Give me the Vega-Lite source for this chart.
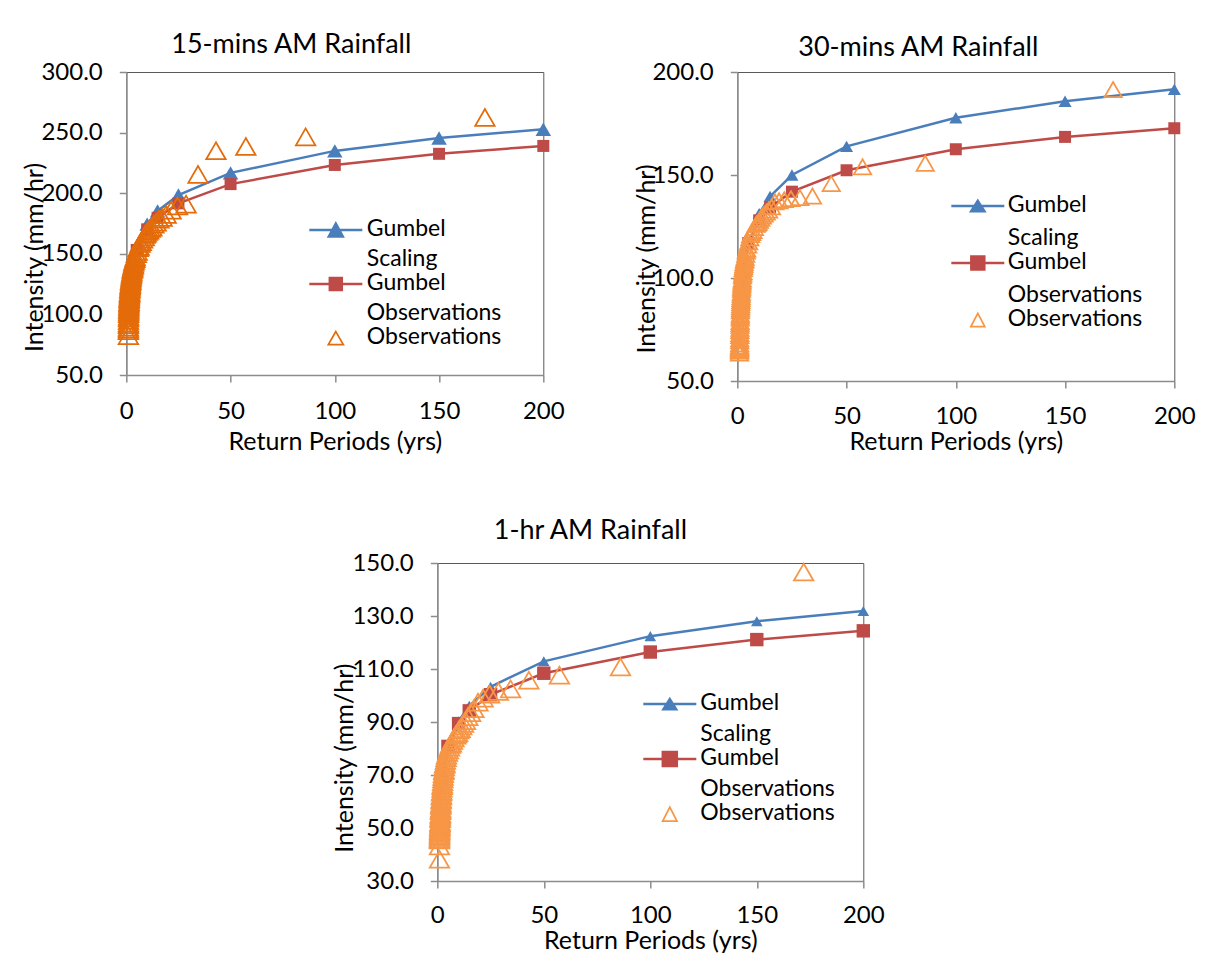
{
"$schema": "https://vega.github.io/schema/vega-lite/v6.json",
"background": "white",
"padding": {"left": 21, "top": 30, "right": 0, "bottom": 0},
"datasets": {
"d15": [
{"s":"Gumbel Scaling","T":2,"I":126.1},{"s":"Gumbel Scaling","T":5,"I":155.2},{"s":"Gumbel Scaling","T":10,"I":174.5},{"s":"Gumbel Scaling","T":15,"I":185.4},{"s":"Gumbel Scaling","T":25,"I":198.5},{"s":"Gumbel Scaling","T":50,"I":216.8},{"s":"Gumbel Scaling","T":100,"I":234.9},{"s":"Gumbel Scaling","T":150,"I":245.6},{"s":"Gumbel Scaling","T":200,"I":252.8},
{"s":"Gumbel Observations","T":2,"I":127.6},{"s":"Gumbel Observations","T":5,"I":153.2},{"s":"Gumbel Observations","T":10,"I":170.2},{"s":"Gumbel Observations","T":15,"I":179.7},{"s":"Gumbel Observations","T":25,"I":191.6},{"s":"Gumbel Observations","T":50,"I":207.5},{"s":"Gumbel Observations","T":100,"I":223.3},{"s":"Gumbel Observations","T":150,"I":232.5},{"s":"Gumbel Observations","T":200,"I":239.0},
{"s":"Observations","T":172,"I":262.5},{"s":"Observations","T":86,"I":246.5},{"s":"Observations","T":57.33,"I":238.5},{"s":"Observations","T":43,"I":235},{"s":"Observations","T":34.4,"I":215.5},{"s":"Observations","T":28.67,"I":191},{"s":"Observations","T":24.57,"I":189.5},{"s":"Observations","T":21.5,"I":186},{"s":"Observations","T":19.11,"I":182.5},{"s":"Observations","T":17.2,"I":180},{"s":"Observations","T":15.64,"I":178.5},{"s":"Observations","T":14.33,"I":176},{"s":"Observations","T":13.23,"I":174.5},{"s":"Observations","T":12.29,"I":172},{"s":"Observations","T":11.47,"I":171},{"s":"Observations","T":10.75,"I":169.5},{"s":"Observations","T":10.12,"I":168.5},{"s":"Observations","T":9.56,"I":167},{"s":"Observations","T":9.05,"I":166},{"s":"Observations","T":8.6,"I":164},{"s":"Observations","T":7.82,"I":162},{"s":"Observations","T":7.17,"I":160},{"s":"Observations","T":6.62,"I":158.5},{"s":"Observations","T":6.14,"I":156},{"s":"Observations","T":5.73,"I":155},{"s":"Observations","T":5.21,"I":152},{"s":"Observations","T":4.78,"I":150},{"s":"Observations","T":4.3,"I":147.5},{"s":"Observations","T":4.1,"I":146},{"s":"Observations","T":3.82,"I":144.5},{"s":"Observations","T":3.58,"I":143},{"s":"Observations","T":3.44,"I":141.5},{"s":"Observations","T":3.31,"I":140.5},{"s":"Observations","T":3.13,"I":139},{"s":"Observations","T":3.02,"I":138},{"s":"Observations","T":2.87,"I":137},{"s":"Observations","T":2.73,"I":135.5},{"s":"Observations","T":2.61,"I":134},{"s":"Observations","T":2.49,"I":133},{"s":"Observations","T":2.39,"I":131.5},{"s":"Observations","T":2.29,"I":130.5},{"s":"Observations","T":2.21,"I":129},{"s":"Observations","T":2.12,"I":128},{"s":"Observations","T":2.05,"I":127},{"s":"Observations","T":1.98,"I":125.5},{"s":"Observations","T":1.91,"I":124.5},{"s":"Observations","T":1.85,"I":123.5},{"s":"Observations","T":1.79,"I":122.5},{"s":"Observations","T":1.74,"I":121.5},{"s":"Observations","T":1.69,"I":120.5},{"s":"Observations","T":1.64,"I":119},{"s":"Observations","T":1.59,"I":118},{"s":"Observations","T":1.55,"I":117},{"s":"Observations","T":1.51,"I":116},{"s":"Observations","T":1.47,"I":115},{"s":"Observations","T":1.43,"I":114},{"s":"Observations","T":1.4,"I":113},{"s":"Observations","T":1.37,"I":112},{"s":"Observations","T":1.33,"I":110.5},{"s":"Observations","T":1.3,"I":109.5},{"s":"Observations","T":1.27,"I":108.5},{"s":"Observations","T":1.25,"I":107},{"s":"Observations","T":1.22,"I":106},{"s":"Observations","T":1.19,"I":104.5},{"s":"Observations","T":1.17,"I":103.5},{"s":"Observations","T":1.15,"I":102},{"s":"Observations","T":1.12,"I":100.5},{"s":"Observations","T":1.1,"I":98.5},{"s":"Observations","T":1.08,"I":97},{"s":"Observations","T":1.06,"I":95},{"s":"Observations","T":1.05,"I":93},{"s":"Observations","T":1.04,"I":91.5},{"s":"Observations","T":1.02,"I":89.5},{"s":"Observations","T":1.02,"I":88},{"s":"Observations","T":1.01,"I":86.5},{"s":"Observations","T":1.01,"I":82.5}
],
"d30": [
{"s":"Gumbel Scaling","T":2,"I":94.0},{"s":"Gumbel Scaling","T":5,"I":116.4},{"s":"Gumbel Scaling","T":10,"I":131.3},{"s":"Gumbel Scaling","T":15,"I":139.6},{"s":"Gumbel Scaling","T":25,"I":150.0},{"s":"Gumbel Scaling","T":50,"I":163.9},{"s":"Gumbel Scaling","T":100,"I":177.8},{"s":"Gumbel Scaling","T":150,"I":185.8},{"s":"Gumbel Scaling","T":200,"I":191.6},
{"s":"Gumbel Observations","T":2,"I":100.3},{"s":"Gumbel Observations","T":5,"I":117.0},{"s":"Gumbel Observations","T":10,"I":128.0},{"s":"Gumbel Observations","T":15,"I":134.2},{"s":"Gumbel Observations","T":25,"I":141.9},{"s":"Gumbel Observations","T":50,"I":152.3},{"s":"Gumbel Observations","T":100,"I":162.5},{"s":"Gumbel Observations","T":150,"I":168.5},{"s":"Gumbel Observations","T":200,"I":172.7},
{"s":"Observations","T":172,"I":191.5},{"s":"Observations","T":86,"I":155.7},{"s":"Observations","T":57.33,"I":154},{"s":"Observations","T":43,"I":145.8},{"s":"Observations","T":34.4,"I":139.8},{"s":"Observations","T":28.67,"I":139},{"s":"Observations","T":24.57,"I":138.5},{"s":"Observations","T":21.5,"I":138},{"s":"Observations","T":19.11,"I":137.5},{"s":"Observations","T":17.2,"I":137},{"s":"Observations","T":15.64,"I":134.5},{"s":"Observations","T":14.33,"I":133},{"s":"Observations","T":13.23,"I":132},{"s":"Observations","T":12.29,"I":131},{"s":"Observations","T":11.47,"I":130},{"s":"Observations","T":10.75,"I":129},{"s":"Observations","T":10.12,"I":128},{"s":"Observations","T":9.56,"I":127},{"s":"Observations","T":9.05,"I":126.5},{"s":"Observations","T":8.6,"I":126},{"s":"Observations","T":7.82,"I":124.5},{"s":"Observations","T":7.17,"I":123},{"s":"Observations","T":6.62,"I":122},{"s":"Observations","T":6.14,"I":121},{"s":"Observations","T":5.73,"I":119.5},{"s":"Observations","T":5.21,"I":117.5},{"s":"Observations","T":4.78,"I":116},{"s":"Observations","T":4.3,"I":114},{"s":"Observations","T":4.1,"I":113},{"s":"Observations","T":3.82,"I":111.5},{"s":"Observations","T":3.58,"I":110},{"s":"Observations","T":3.44,"I":109},{"s":"Observations","T":3.31,"I":108.5},{"s":"Observations","T":3.13,"I":107.5},{"s":"Observations","T":3.02,"I":106.5},{"s":"Observations","T":2.87,"I":105.5},{"s":"Observations","T":2.73,"I":104.5},{"s":"Observations","T":2.61,"I":103},{"s":"Observations","T":2.49,"I":102},{"s":"Observations","T":2.39,"I":101},{"s":"Observations","T":2.29,"I":99.5},{"s":"Observations","T":2.21,"I":98.5},{"s":"Observations","T":2.12,"I":97.5},{"s":"Observations","T":2.05,"I":96.5},{"s":"Observations","T":1.98,"I":95.5},{"s":"Observations","T":1.91,"I":94.5},{"s":"Observations","T":1.85,"I":93},{"s":"Observations","T":1.79,"I":92},{"s":"Observations","T":1.74,"I":91},{"s":"Observations","T":1.69,"I":90},{"s":"Observations","T":1.64,"I":89},{"s":"Observations","T":1.59,"I":88},{"s":"Observations","T":1.55,"I":87},{"s":"Observations","T":1.51,"I":86},{"s":"Observations","T":1.47,"I":85},{"s":"Observations","T":1.43,"I":84},{"s":"Observations","T":1.4,"I":82.5},{"s":"Observations","T":1.37,"I":81.5},{"s":"Observations","T":1.33,"I":80.5},{"s":"Observations","T":1.3,"I":79},{"s":"Observations","T":1.27,"I":78},{"s":"Observations","T":1.25,"I":77},{"s":"Observations","T":1.22,"I":75.5},{"s":"Observations","T":1.19,"I":74.5},{"s":"Observations","T":1.17,"I":73},{"s":"Observations","T":1.15,"I":72},{"s":"Observations","T":1.12,"I":70.5},{"s":"Observations","T":1.1,"I":69.5},{"s":"Observations","T":1.08,"I":68},{"s":"Observations","T":1.06,"I":67},{"s":"Observations","T":1.05,"I":66.5},{"s":"Observations","T":1.04,"I":66},{"s":"Observations","T":1.02,"I":65.5},{"s":"Observations","T":1.02,"I":65},{"s":"Observations","T":1.01,"I":64.5},{"s":"Observations","T":1.01,"I":63.5}
],
"d60": [
{"s":"Gumbel Scaling","T":2,"I":64.6},{"s":"Gumbel Scaling","T":5,"I":80.1},{"s":"Gumbel Scaling","T":10,"I":90.3},{"s":"Gumbel Scaling","T":15,"I":96.1},{"s":"Gumbel Scaling","T":25,"I":103.3},{"s":"Gumbel Scaling","T":50,"I":112.9},{"s":"Gumbel Scaling","T":100,"I":122.4},{"s":"Gumbel Scaling","T":150,"I":128.0},{"s":"Gumbel Scaling","T":200,"I":131.9},
{"s":"Gumbel Observations","T":2,"I":67.7},{"s":"Gumbel Observations","T":5,"I":80.8},{"s":"Gumbel Observations","T":10,"I":89.4},{"s":"Gumbel Observations","T":15,"I":94.2},{"s":"Gumbel Observations","T":25,"I":100.3},{"s":"Gumbel Observations","T":50,"I":108.4},{"s":"Gumbel Observations","T":100,"I":116.4},{"s":"Gumbel Observations","T":150,"I":121.1},{"s":"Gumbel Observations","T":200,"I":124.4},
{"s":"Observations","T":172,"I":146.6},{"s":"Observations","T":86,"I":110.8},{"s":"Observations","T":57.33,"I":107.7},{"s":"Observations","T":43,"I":105.8},{"s":"Observations","T":34.4,"I":102.5},{"s":"Observations","T":28.67,"I":101.5},{"s":"Observations","T":24.57,"I":100.5},{"s":"Observations","T":21.5,"I":99},{"s":"Observations","T":19.11,"I":97.5},{"s":"Observations","T":17.2,"I":95},{"s":"Observations","T":15.64,"I":93.5},{"s":"Observations","T":14.33,"I":92},{"s":"Observations","T":13.23,"I":90.5},{"s":"Observations","T":12.29,"I":89.5},{"s":"Observations","T":11.47,"I":88.5},{"s":"Observations","T":10.75,"I":87.5},{"s":"Observations","T":10.12,"I":87},{"s":"Observations","T":9.56,"I":86},{"s":"Observations","T":9.05,"I":85.5},{"s":"Observations","T":8.6,"I":85},{"s":"Observations","T":7.82,"I":84},{"s":"Observations","T":7.17,"I":83},{"s":"Observations","T":6.62,"I":82},{"s":"Observations","T":6.14,"I":81.5},{"s":"Observations","T":5.73,"I":80.5},{"s":"Observations","T":5.21,"I":79.5},{"s":"Observations","T":4.78,"I":78.5},{"s":"Observations","T":4.3,"I":77.5},{"s":"Observations","T":4.1,"I":76.5},{"s":"Observations","T":3.82,"I":75.5},{"s":"Observations","T":3.58,"I":74.5},{"s":"Observations","T":3.44,"I":74},{"s":"Observations","T":3.31,"I":73},{"s":"Observations","T":3.13,"I":72},{"s":"Observations","T":3.02,"I":71.5},{"s":"Observations","T":2.87,"I":70.5},{"s":"Observations","T":2.73,"I":69.5},{"s":"Observations","T":2.61,"I":68.5},{"s":"Observations","T":2.49,"I":67.5},{"s":"Observations","T":2.39,"I":66.5},{"s":"Observations","T":2.29,"I":66},{"s":"Observations","T":2.21,"I":65},{"s":"Observations","T":2.12,"I":64},{"s":"Observations","T":2.05,"I":63.5},{"s":"Observations","T":1.98,"I":62.5},{"s":"Observations","T":1.91,"I":62},{"s":"Observations","T":1.85,"I":61},{"s":"Observations","T":1.79,"I":60.5},{"s":"Observations","T":1.74,"I":59.5},{"s":"Observations","T":1.69,"I":59},{"s":"Observations","T":1.64,"I":58.5},{"s":"Observations","T":1.59,"I":57.5},{"s":"Observations","T":1.55,"I":57},{"s":"Observations","T":1.51,"I":56.5},{"s":"Observations","T":1.47,"I":55.5},{"s":"Observations","T":1.43,"I":55},{"s":"Observations","T":1.4,"I":54.5},{"s":"Observations","T":1.37,"I":54},{"s":"Observations","T":1.33,"I":53.5},{"s":"Observations","T":1.3,"I":52.5},{"s":"Observations","T":1.27,"I":52},{"s":"Observations","T":1.25,"I":51.5},{"s":"Observations","T":1.22,"I":51},{"s":"Observations","T":1.19,"I":50.5},{"s":"Observations","T":1.17,"I":50},{"s":"Observations","T":1.15,"I":49.5},{"s":"Observations","T":1.12,"I":49},{"s":"Observations","T":1.1,"I":48.5},{"s":"Observations","T":1.08,"I":48},{"s":"Observations","T":1.06,"I":47.5},{"s":"Observations","T":1.05,"I":47},{"s":"Observations","T":1.04,"I":46.5},{"s":"Observations","T":1.02,"I":46},{"s":"Observations","T":1.02,"I":45.5},{"s":"Observations","T":1.01,"I":43.2},{"s":"Observations","T":1.01,"I":38.2}
]
},
"vconcat": [
{"hconcat": [
{
"width": 417, "height": 303,
"title": {"text": "15-mins AM Rainfall", "dx": -2},
"data": {"name": "d15"},
"encoding": {
 "x": {"field": "T", "type": "quantitative", "scale": {"domain": [0, 200], "nice": false}, "axis": {"title": "Return Periods (yrs)", "values": [0, 50, 100, 150, 200], "labelFlush": false, "labelPadding": 17, "titleY": 54, "titleBaseline": "top"}},
 "y": {"field": "I", "type": "quantitative", "scale": {"domain": [50, 300], "nice": false, "zero": false}, "axis": {"title": "Intensity (mm/hr)", "values": [50, 100, 150, 200, 250, 300], "format": ".1f", "titleX": -92, "titleY": 185, "titleBaseline": "middle", "titleAlign": "center", "titleAngle": 270}},
 "color": {"field": "s", "type": "nominal", "scale": {"domain": ["Gumbel Scaling", "Gumbel Observations", "Observations"], "range": ["#4A7EBB", "#BE4B48", "#E46C0A"]},
  "legend": {"title": null, "orient": "none", "legendX": 198, "legendY": 145, "padding": 0, "symbolSize": 2809, "labelOffset": 19.5, "rowPadding": -14, "labelLimit": 400, "labelFont": "Lato", "labelFontSize": 23, "labelColor": "#000000", "labelBaseline": "middle",
   "labelExpr": "datum.label == 'Observations' ? ['Observations', ''] : split(datum.label, ' ')",
   "encode": {
    "symbols": {"update": {
     "shape": {"signal": "datum.value == 'Gumbel Scaling' ? 'M-1,0.06H1M0,-0.185L0.264,0.305L-0.264,0.305Z' : datum.value == 'Gumbel Observations' ? 'M-1,0.06H1M-0.226,-0.166H0.226V0.286H-0.226Z' : 'M0,-0.185L0.283,0.305L-0.283,0.305Z'"},
     "fillOpacity": {"signal": "datum.value == 'Observations' ? 0 : 1"},
     "strokeWidth": {"signal": "datum.value == 'Observations' ? 1.75 : 2.5"},
     "opacity": {"value": 1}
    }},
    "labels": {"update": {"lineHeight": {"value": 30}}}
   }
  }
 }
},
"layer": [
 {"transform": [{"filter": "datum.s != 'Observations'"}], "mark": {"type": "line", "strokeWidth": 2.5}},
 {"transform": [{"filter": "datum.s == 'Gumbel Scaling'"}], "mark": {"type": "point", "shape": "triangle-up", "filled": true, "size": 240, "opacity": 1}},
 {"transform": [{"filter": "datum.s == 'Gumbel Observations'"}], "mark": {"type": "point", "shape": "square", "filled": true, "size": 144, "opacity": 1}},
 {"transform": [{"filter": "datum.s == 'Observations'"}], "mark": {"type": "point", "shape": "triangle-up", "filled": false, "size": 380, "strokeWidth": 1.75, "opacity": 1}}
]
},
{
"width": 437, "height": 309,
"title": {"text": "30-mins AM Rainfall", "dx": 3.5, "offset": -2},
"data": {"name": "d30"},
"encoding": {
 "x": {"field": "T", "type": "quantitative", "scale": {"domain": [0, 200], "nice": false}, "axis": {"title": "Return Periods (yrs)", "values": [0, 50, 100, 150, 200], "labelFlush": false, "labelPadding": 16, "titleY": 48, "titleBaseline": "top"}},
 "y": {"field": "I", "type": "quantitative", "scale": {"domain": [50, 200], "nice": false, "zero": false}, "axis": {"title": "Intensity (mm/hr)", "values": [50, 100, 150, 200], "format": ".1f", "titleX": -91, "titleY": 186.5, "titleBaseline": "middle", "titleAlign": "center", "titleAngle": 270}},
 "color": {"field": "s", "type": "nominal", "scale": {"domain": ["Gumbel Scaling", "Gumbel Observations", "Observations"], "range": ["#4A7EBB", "#BE4B48", "#F79646"]},
  "legend": {"title": null, "orient": "none", "legendX": 229, "legendY": 121, "padding": 0, "symbolSize": 2809, "labelOffset": 18.5, "rowPadding": -14, "labelLimit": 400, "labelFont": "Lato", "labelFontSize": 23, "labelColor": "#000000", "labelBaseline": "middle",
   "labelExpr": "datum.label == 'Observations' ? ['Observations', ''] : split(datum.label, ' ')",
   "encode": {
    "symbols": {"update": {
     "shape": {"signal": "datum.value == 'Gumbel Scaling' ? 'M-1,0.06H1M0,-0.135L0.25,0.255L-0.25,0.255Z' : datum.value == 'Gumbel Observations' ? 'M-1,0.06H1M-0.245,-0.185H0.245V0.305H-0.245Z' : 'M0,-0.19L0.264,0.31L-0.264,0.31Z'"},
     "fillOpacity": {"signal": "datum.value == 'Observations' ? 0 : 1"},
     "strokeWidth": {"signal": "datum.value == 'Observations' ? 1.75 : 2.5"},
     "opacity": {"value": 1}
    }},
    "labels": {"update": {"lineHeight": {"value": 33}}}
   }
  }
 }
},
"layer": [
 {"transform": [{"filter": "datum.s != 'Observations'"}], "mark": {"type": "line", "strokeWidth": 2.5}},
 {"transform": [{"filter": "datum.s == 'Gumbel Scaling'"}], "mark": {"type": "point", "shape": "triangle-up", "filled": true, "size": 170, "opacity": 1}},
 {"transform": [{"filter": "datum.s == 'Gumbel Observations'"}], "mark": {"type": "point", "shape": "square", "filled": true, "size": 144, "opacity": 1}},
 {"transform": [{"filter": "datum.s == 'Observations'"}], "mark": {"type": "point", "shape": "triangle-up", "filled": false, "size": 300, "strokeWidth": 1.75, "opacity": 1}}
]
}
], "spacing": 68, "resolve": {"scale": {"color": "independent", "x": "independent", "y": "independent"}, "legend": {"color": "independent"}}},
{
"width": 426, "height": 318,
"title": {"text": "1-hr AM Rainfall", "dx": -18, "offset": 6},
"data": {"name": "d60"},
"encoding": {
 "x": {"field": "T", "type": "quantitative", "scale": {"domain": [0, 200], "nice": false}, "axis": {"title": "Return Periods (yrs)", "values": [0, 50, 100, 150, 200], "labelFlush": false, "labelPadding": 15, "titleY": 47, "titleBaseline": "top"}},
 "y": {"field": "I", "type": "quantitative", "scale": {"domain": [30, 150], "nice": false, "zero": false}, "axis": {"title": "Intensity (mm/hr)", "values": [30, 50, 70, 90, 110, 130, 150], "format": ".1f", "titleX": -92.7, "titleY": 194.7, "titleBaseline": "middle", "titleAlign": "center", "titleAngle": 270}},
 "color": {"field": "s", "type": "nominal", "scale": {"domain": ["Gumbel Scaling", "Gumbel Observations", "Observations"], "range": ["#4A7EBB", "#BE4B48", "#F79646"]},
  "legend": {"title": null, "orient": "none", "legendX": 221, "legendY": 128, "padding": 0, "symbolSize": 2809, "labelOffset": 19, "rowPadding": -14, "labelLimit": 400, "labelFont": "Lato", "labelFontSize": 23, "labelColor": "#000000", "labelBaseline": "middle",
   "labelExpr": "datum.label == 'Observations' ? ['Observations', ''] : split(datum.label, ' ')",
   "encode": {
    "symbols": {"update": {
     "shape": {"signal": "datum.value == 'Gumbel Scaling' ? 'M-1,0.06H1M0,-0.13L0.24,0.25L-0.24,0.25Z' : datum.value == 'Gumbel Observations' ? 'M-1,0.06H1M-0.264,-0.204H0.264V0.324H-0.264Z' : 'M0,-0.204L0.27,0.324L-0.27,0.324Z'"},
     "fillOpacity": {"signal": "datum.value == 'Observations' ? 0 : 1"},
     "strokeWidth": {"signal": "datum.value == 'Observations' ? 1.75 : 2.5"},
     "opacity": {"value": 1}
    }},
    "labels": {"update": {"lineHeight": {"value": 31.5}}}
   }
  }
 }
},
"layer": [
 {"transform": [{"filter": "datum.s != 'Observations'"}], "mark": {"type": "line", "strokeWidth": 2.5}},
 {"transform": [{"filter": "datum.s == 'Gumbel Scaling'"}], "mark": {"type": "point", "shape": "triangle-up", "filled": true, "size": 135, "opacity": 1}},
 {"transform": [{"filter": "datum.s == 'Gumbel Observations'"}], "mark": {"type": "point", "shape": "square", "filled": true, "size": 180, "opacity": 1}},
 {"transform": [{"filter": "datum.s == 'Observations'"}], "mark": {"type": "point", "shape": "triangle-up", "filled": false, "size": 380, "strokeWidth": 1.75, "opacity": 1}}
]
}
],
"spacing": 61,
"center": true,
"resolve": {"scale": {"color": "independent", "x": "independent", "y": "independent"}, "legend": {"color": "independent"}},
"config": {
 "font": "Lato",
 "view": {"stroke": "#595959", "strokeWidth": 1},
 "axis": {"grid": false, "domainColor": "#8c8c8c", "domainWidth": 1.5, "tickColor": "#8c8c8c", "tickWidth": 1.5, "tickSize": 7, "labelFont": "Lato", "labelFontSize": 24, "labelColor": "#000000", "labelPadding": 17, "labelOverlap": false, "titleFont": "Lato", "titleFontSize": 25, "titleFontWeight": "normal", "titleColor": "#000000"},
 "title": {"font": "Lato", "fontSize": 27, "fontWeight": "normal", "color": "#000000", "anchor": "middle", "frame": "bounds", "baseline": "alphabetic", "offset": 1}
}
}
